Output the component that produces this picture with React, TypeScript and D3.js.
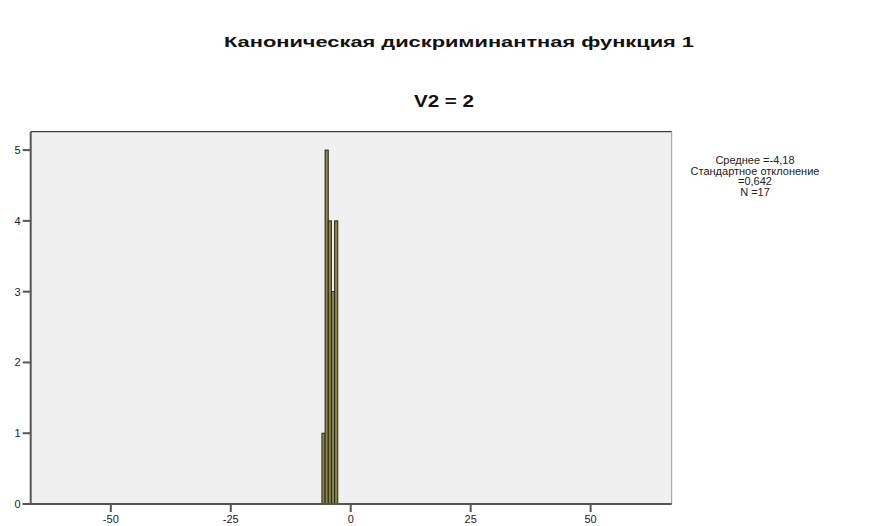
import React from "react";
import * as d3 from "d3";

const binEdges = [-6.0, -5.34, -4.68, -4.02, -3.36, -2.7];
const counts = [1, 5, 4, 3, 4];
const xTicks = [-50, -25, 0, 25, 50];
const yTicks = [0, 1, 2, 3, 4, 5];
const title = "Каноническая дискриминантная функция 1";
const subtitle = "V2 = 2";
const legendLines = ["Среднее =-4,18", "Стандартное отклонение", "=0,642", "N =17"];

export default function App() {
  const W = 869, H = 526;
  const left = 30.7, right = 671.7, top = 131.7, bottom = 504;
  const x = d3.scaleLinear().domain([-66.7, 66.9]).range([left, right]);
  const y = d3.scaleLinear().domain([0, 5.26]).range([bottom, top]);
  const bins = counts.map((c, i) => ({ x0: binEdges[i], x1: binEdges[i + 1], c }));
  const font = "'Liberation Sans', Arial, sans-serif";
  return (
    <svg width={W} height={H} style={{ position: "absolute", left: 0, top: 0, background: "#fff" }} fontFamily={font}>
      <text x={459} y={47} textAnchor="middle" fontSize={14} fontWeight="bold" fill="#111"
        textLength={470} lengthAdjust="spacingAndGlyphs">{title}</text>
      <text x={444} y={107} textAnchor="middle" fontSize={16} fontWeight="bold" fill="#111"
        textLength={60} lengthAdjust="spacingAndGlyphs">{subtitle}</text>
      <rect x={left} y={top} width={right - left} height={bottom - top} fill="#f0f0f0" stroke="none" />
      <line x1={left} y1={top} x2={right} y2={top} stroke="#111" strokeWidth={1} />
      <line x1={right} y1={top} x2={right} y2={bottom} stroke="#999" strokeWidth={1} />
      {bins.map((b, i) => (
        <rect key={i} x={x(b.x0)} y={y(b.c)} width={x(b.x1) - x(b.x0)} height={bottom - y(b.c)}
          fill="#8c8548" stroke="#26261c" strokeWidth={1} />
      ))}
      <line x1={left} y1={top} x2={left} y2={bottom} stroke="#555" strokeWidth={2} />
      <line x1={left - 8} y1={bottom} x2={right} y2={bottom} stroke="#555" strokeWidth={2} />
      {yTicks.map(t => (
        <g key={t}>
          <line x1={left - 8} x2={left} y1={y(t)} y2={y(t)} stroke="#555" strokeWidth={2} />
          <text x={left - 10} y={y(t) + 4} textAnchor="end" fontSize={11} fill="#222">{t}</text>
        </g>
      ))}
      {xTicks.map(t => (
        <g key={t}>
          <line x1={x(t)} x2={x(t)} y1={bottom} y2={bottom + 8} stroke="#555" strokeWidth={2} />
          <text x={x(t)} y={bottom + 19} textAnchor="middle" fontSize={11} fill="#222">{t}</text>
        </g>
      ))}
      {legendLines.map((l, i) => (
        <text key={i} x={755} y={164 + i * 10.5} textAnchor="middle" fontSize={11} fill="#222">{l}</text>
      ))}
    </svg>
  );
}
